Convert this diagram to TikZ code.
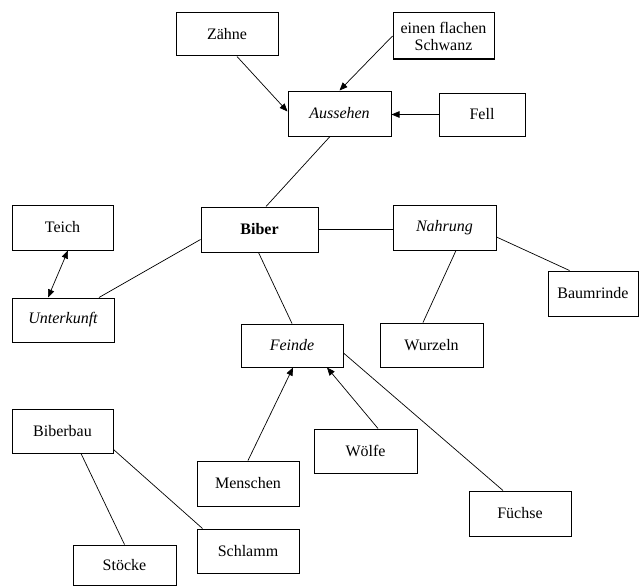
\documentclass[tikz,border=0pt]{standalone}
\usepackage{fontspec}
\setmainfont{Liberation Serif}
\usetikzlibrary{arrows.meta}
\tikzset{
  box/.style={draw, line width=1pt, rectangle, inner sep=0pt, align=center,
    font=\fontsize{16}{17}\selectfont},
  conn/.style={line width=0.7pt},
  arr/.style={conn, -{Triangle[length=8pt,width=6.5pt]}},
  darr/.style={conn, {Triangle[length=8pt,width=6.5pt]}-{Triangle[length=8pt,width=6.5pt]}}
}
\newcommand{\bx}[7]{% name, x1, y1, x2, y2, text, extra style
  \node[box, #7, minimum width={#4-#2}, minimum height={#5-#3}] (#1) at ({(#2+#4)/2},{(#3+#5)/2}) {#6};}
\begin{document}
\begin{tikzpicture}[x=1pt,y=-1pt]
\useasboundingbox (0,0) rectangle (639,586);
\bx{zaehne}{176}{13}{278}{56}{Zähne}{}
\bx{schwanz}{393}{13}{494}{59}{einen flachen\\Schwanz}{}
\bx{aussehen}{288}{91}{391}{136}{\itshape Aussehen}{}
\bx{fell}{439}{93}{525}{136}{Fell}{}
\bx{teich}{12}{205}{113}{250}{Teich}{}
\bx{biber}{201}{207}{318}{252}{\bfseries Biber}{}
\bx{nahrung}{393}{205}{496}{250}{\itshape Nahrung}{}
\bx{baumrinde}{548}{271}{638}{316}{Baumrinde}{}
\bx{unterkunft}{12}{298}{114}{342}{\itshape Unterkunft}{}
\bx{feinde}{241}{324}{343}{367}{\itshape Feinde}{}
\bx{wurzeln}{380}{323}{483}{367}{Wurzeln}{}
\bx{biberbau}{12}{409}{113}{453}{Biberbau}{}
\bx{woelfe}{314}{429}{417}{473}{Wölfe}{}
\bx{menschen}{197}{461}{299}{506}{Menschen}{}
\bx{fuechse}{469}{491}{571}{536}{Füchse}{}
\bx{schlamm}{197}{529}{299}{573}{Schlamm}{}
\bx{stoecke}{73}{545}{176}{585}{Stöcke}{}

\draw[arr] ([xshift=10pt]zaehne.south) -- ([yshift=2pt]aussehen.west);
\draw[arr] (schwanz.west) -- (aussehen.north);
\draw[arr] (fell.west) -- (fell.west -| aussehen.east);
\draw[conn] ([xshift=-9.5pt]aussehen.south) -- ([xshift=6.5pt]biber.north);
\draw[conn] (biber.east) -- (biber.east -| nahrung.west);
\draw[conn] ([yshift=-10pt]biber.west) -- ([xshift=36pt]unterkunft.north);
\draw[darr] ([xshift=5.5pt]teich.south) -- ([xshift=-15pt]unterkunft.north);
\draw[conn] ([xshift=-1pt]biber.south) -- (feinde.north);
\draw[conn] ([xshift=11.5pt]nahrung.south) -- ([xshift=-8.5pt]wurzeln.north);
\draw[conn] ([yshift=-9.5pt]nahrung.east) -- ([xshift=-23.5pt]baumrinde.north);
\draw[arr] (menschen.north) -- ([xshift=1pt]feinde.south);
\draw[arr] ([xshift=12.5pt]woelfe.north) -- ([xshift=35pt]feinde.south);
\draw[conn] ([yshift=-7.5pt]feinde.east) -- ([xshift=-17pt]fuechse.north);
\draw[conn] ([xshift=18.5pt]biberbau.south) -- (stoecke.north);
\draw[conn] ([yshift=4pt]biberbau.south east) -- ([xshift=6pt]schlamm.north west);
\end{tikzpicture}
\end{document}
